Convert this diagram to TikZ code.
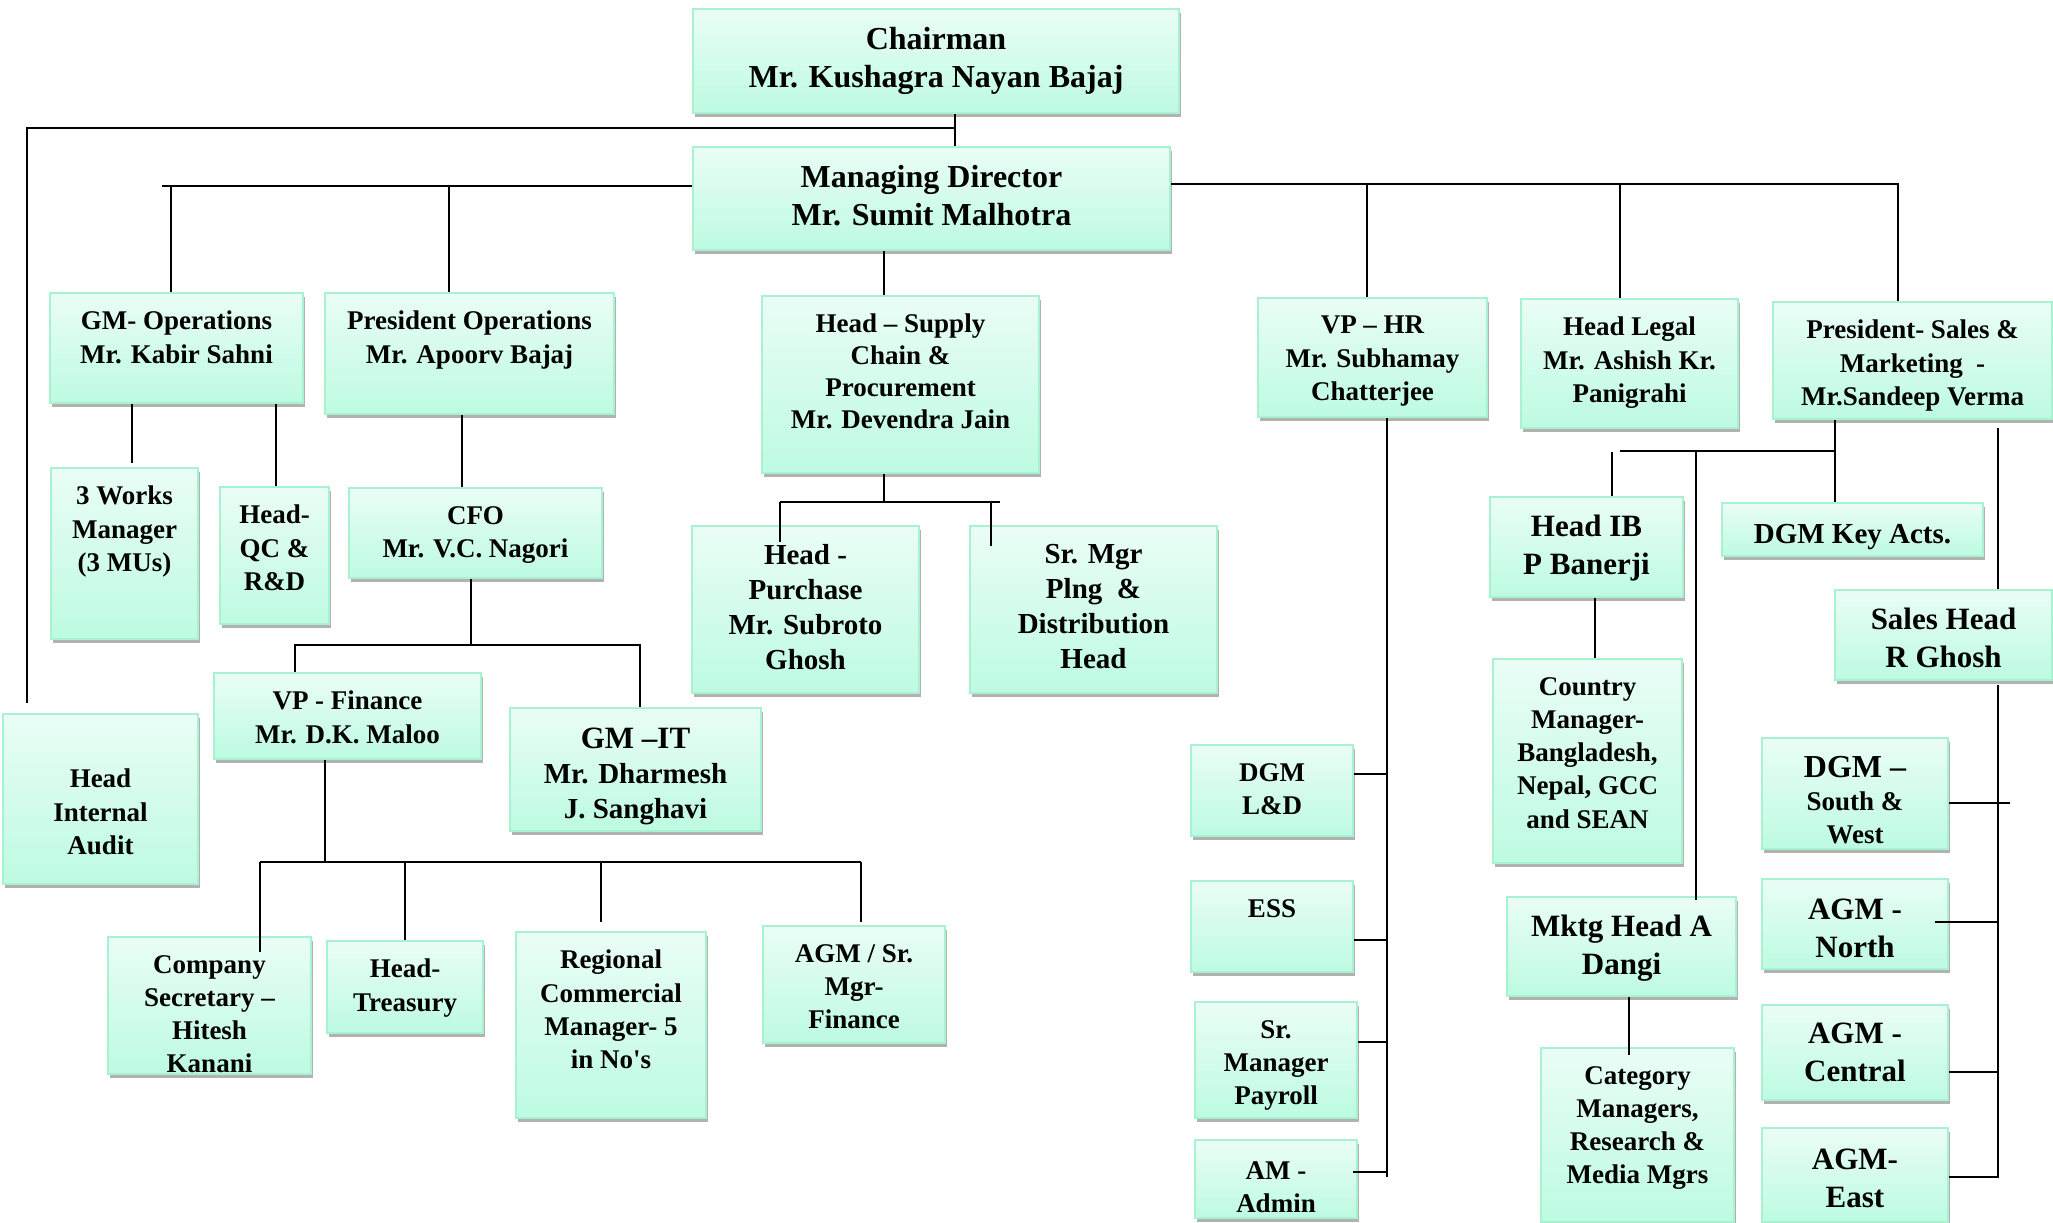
\documentclass[tikz,border=0pt]{standalone}
\usepackage{fontspec}
\setmainfont{Liberation Serif}
\usetikzlibrary{shadows}
\definecolor{boxtop}{HTML}{EAFDF6}
\definecolor{boxbot}{HTML}{BDFBE2}
\definecolor{boxline}{HTML}{A8F2D0}

\begin{document}
\begin{tikzpicture}[
  x=1pt, y=-1pt,
  post/.style={rectangle, draw=boxline, line width=2pt, top color=boxtop, bottom color=boxbot, inner sep=0pt,
    drop shadow={shadow xshift=2pt, shadow yshift=-4pt, fill=black, opacity=0.3}},
  txt/.style={anchor=north, yshift=-19pt, align=center, inner sep=0pt, font=\fontsize{27}{33.3}\selectfont\bfseries},
  txtm/.style={txt, font=\fontsize{29}{35}\selectfont\bfseries},
  txtl/.style={txt, font=\fontsize{31}{38}\selectfont\bfseries},
  txtxl/.style={txt, font=\fontsize{32}{38}\selectfont\bfseries},
  link/.style={draw, line width=2.3pt}
]
\fill[white] (0,0) rectangle (2053,1223);
\useasboundingbox (0,0) rectangle (2053,1223);

% top management
\node[post, minimum width=486, minimum height=104, label={[txtxl]north:Chairman\\Mr. Kushagra Nayan Bajaj}] (chair) at (936,61) {};
\node[post, minimum width=477, minimum height=103, label={[txtxl]north:Managing Director\\Mr. Sumit Malhotra}] (md) at (931.5,198.5) {};

% operations and finance
\node[post, minimum width=253, minimum height=110, label={[txt]north:GM- Operations\\Mr. Kabir Sahni}] (gmops) at (176.5,348) {};
\node[post, minimum width=289, minimum height=121, label={[txt]north:President Operations\\Mr. Apoorv Bajaj}] (presops) at (469.5,353.5) {};
\node[post, minimum width=147, minimum height=171, label={[txt]north:3 Works\\Manager\\(3 MUs)}] (works) at (124.5,553.5) {};
\node[post, minimum width=109, minimum height=137, label={[txt]north:Head-\\QC \&\\R\&D}] (qc) at (274.5,555.5) {};
\node[post, minimum width=253, minimum height=90, label={[txt]north:CFO\\Mr. V.C. Nagori}] (cfo) at (475.5,533) {};
\node[post, minimum width=195, minimum height=170, label={[txt, yshift=-37pt]north:Head\\Internal\\Audit}] (audit) at (100.5,799) {};
\node[post, minimum width=267, minimum height=86, label={[txt]north:VP - Finance\\Mr. D.K. Maloo}] (vpfin) at (347.5,716) {};
\node[post, minimum width=251, minimum height=123, label={[txtm, yshift=-2pt]north:{\fontsize{31}{38}\selectfont GM --IT}\\Mr. Dharmesh\\J. Sanghavi}] (gmit) at (635.5,769.5) {};
\node[post, minimum width=203, minimum height=137, label={[txt]north:Company\\Secretary --\\Hitesh\\Kanani}] (cosec) at (209.5,1005.5) {};
\node[post, minimum width=156, minimum height=92, label={[txt]north:Head-\\Treasury}] (treas) at (405,987) {};
\node[post, minimum width=190, minimum height=186, label={[txt]north:Regional\\Commercial\\Manager- 5\\in No\textquotesingle s}] (regional) at (611,1025) {};
\node[post, minimum width=182, minimum height=117, label={[txt]north:AGM / Sr.\\Mgr-\\Finance}] (agmfin) at (854,984.5) {};

% supply chain
\node[post, minimum width=277, minimum height=177, label={[txt, font=\fontsize{27}{32}\selectfont\bfseries]north:Head -- Supply\\Chain \&\\Procurement\\Mr. Devendra Jain}] (supply) at (900.5,384.5) {};
\node[post, minimum width=227, minimum height=167, label={[txtm]north:Head -\\Purchase\\Mr. Subroto\\Ghosh}] (purchase) at (805.5,609.5) {};
\node[post, minimum width=247, minimum height=167, label={[txtm]north:Sr. Mgr\\Plng~\ \&\\Distribution\\Head}] (plng) at (1093.5,609.5) {};

% HR and legal
\node[post, minimum width=229, minimum height=119, label={[txt]north:VP -- HR\\Mr. Subhamay\\Chatterjee}] (vphr) at (1372.5,357.5) {};
\node[post, minimum width=217, minimum height=129, label={[txt]north:Head Legal\\Mr. Ashish Kr.\\Panigrahi}] (legal) at (1629.5,363.5) {};
\node[post, minimum width=162, minimum height=91, label={[txt]north:DGM\\L\&D}] (dgmld) at (1272,790.5) {};
\node[post, minimum width=162, minimum height=91, label={[txt]north:ESS}] (ess) at (1272,926.5) {};
\node[post, minimum width=162, minimum height=116, label={[txt]north:Sr.\\Manager\\Payroll}] (payroll) at (1276,1060) {};
\node[post, minimum width=162, minimum height=78, label={[txt, yshift=-3pt]north:AM -\\Admin}] (admin) at (1276,1179) {};

% sales and marketing
\node[post, minimum width=279, minimum height=117, label={[txt]north:President- Sales \&\\Marketing~\ -\\Mr.Sandeep Verma}] (pressales) at (1912.5,360.5) {};
\node[post, minimum width=193, minimum height=100, label={[txtl]north:Head IB\\P Banerji}] (headib) at (1586.5,547) {};
\node[post, minimum width=261, minimum height=53, label={[txtm, yshift=-3pt]north:DGM Key Acts.}] (keyacts) at (1852.5,529.5) {};
\node[post, minimum width=217, minimum height=90, label={[txtl]north:Sales Head\\R Ghosh}] (saleshead) at (1943.5,635) {};
\node[post, minimum width=189, minimum height=204, label={[txt]north:Country\\Manager-\\Bangladesh,\\Nepal, GCC\\and SEAN}] (country) at (1587.5,761) {};
\node[post, minimum width=229, minimum height=99, label={[txtl]north:Mktg Head A\\Dangi}] (mktg) at (1621.5,946.5) {};
\node[post, minimum width=193, minimum height=174, label={[txt]north:Category\\Managers,\\Research \&\\Media Mgrs}] (category) at (1637.5,1135) {};
\node[post, minimum width=186, minimum height=111, label={[txt]north:{\fontsize{32}{38}\selectfont DGM --}\\South \&\\West}] (dgmsw) at (1855,793.5) {};
\node[post, minimum width=186, minimum height=90, label={[txtl, yshift=-2pt]north:AGM -\\North}] (agmn) at (1855,924) {};
\node[post, minimum width=186, minimum height=95, label={[txtl]north:AGM -\\Central}] (agmc) at (1855,1052.5) {};
\node[post, minimum width=186, minimum height=94, label={[txtl, yshift=-3pt]north:AGM-\\East}] (agme) at (1855,1175) {};

% chairman and MD links
\coordinate (chj) at (955,128);
\coordinate (auditj) at (27,703);
\draw[link] (chair.south -| chj) -- (md.north -| chj);
\draw[link] (chj) -| (auditj);

\coordinate (mdl) at (162,186);
\coordinate (gmj) at (171,186);
\coordinate (poj) at (449,186);
\draw[link] (md.west |- mdl) -- (mdl);
\draw[link] (gmj) -- (gmops.north -| gmj);
\draw[link] (poj) -- (presops.north -| poj);

\coordinate (mdr) at (1898,184);
\coordinate (hrj) at (1367,184);
\coordinate (lgj) at (1620,184);
\draw[link] (md.east |- mdr) -- (mdr) -- (pressales.north -| mdr);
\draw[link] (hrj) -- (vphr.north -| hrj);
\draw[link] (lgj) -- (legal.north -| lgj);

% operations
\coordinate (wj) at (132,463);
\coordinate (qcj) at (276,487);
\coordinate (cfoj) at (462,488);
\draw[link] (gmops.south -| wj) -- (wj);
\draw[link] (gmops.south -| qcj) -- (qc.north -| qcj);
\draw[link] (presops.south -| cfoj) -- (cfo.north -| cfoj);

% finance
\coordinate (fj) at (471,645);
\coordinate (fl) at (295,645);
\coordinate (fr) at (640,645);
\draw[link] (cfo.south -| fj) -- (fj);
\draw[link] (vpfin.north -| fl) -- (fl) -- (fr) -- (gmit.north -| fr);
\coordinate (vj) at (325,862);
\coordinate (vl) at (260,862);
\coordinate (vr) at (861,862);
\coordinate (tj) at (405,862);
\coordinate (rj) at (601,862);
\draw[link] (vpfin.south -| vj) -- (vj);
\draw[link] (vl) -- (vr);
\draw[link] (vl) -- ([yshift=-16pt]cosec.north -| vl);
\draw[link] (tj) -- (treas.north -| tj);
\draw[link] (rj) -- ([yshift=9pt]regional.north -| rj);
\draw[link] (vr) -- ([yshift=3pt]agmfin.north -| vr);

% supply chain
\coordinate (sj) at (884,502);
\coordinate (sl) at (780,502);
\coordinate (sr) at (1000,502);
\coordinate (pj) at (991,502);
\draw[link] (md.south -| sj) -- (supply.north -| sj);
\draw[link] (supply.south -| sj) -- (sj);
\draw[link] (sl) -- (sr);
\draw[link] (sl) -- ([yshift=-17pt]purchase.north -| sl);
\draw[link] (pj) -- ([yshift=-21pt]plng.north -| pj);

% HR
\coordinate (hrb) at (1387,1177);
\coordinate (hr1) at (1387,774);
\coordinate (hr2) at (1387,940);
\coordinate (hr3) at (1387,1042);
\coordinate (hr4) at (1387,1172);
\draw[link] (vphr.south -| hrb) -- (hrb);
\draw[link] (dgmld.east |- hr1) -- (hr1);
\draw[link] (ess.east |- hr2) -- (hr2);
\draw[link] (payroll.east |- hr3) -- (hr3);
\draw[link] ([xshift=-5pt]admin.east |- hr4) -- (hr4);

% sales and marketing
\coordinate (psj) at (1835,451);
\coordinate (psl) at (1620,451);
\coordinate (ibj) at (1612,452);
\coordinate (mkj) at (1696,451);
\draw[link] (pressales.south -| psj) -- (keyacts.north -| psj);
\draw[link] (psl) -- (psj);
\draw[link] (ibj) -- (headib.north -| ibj);
\draw[link] (mkj) -- ([yshift=-4pt]mktg.north -| mkj);
\coordinate (cmj) at (1595,600);
\coordinate (ctj) at (1629,1000);
\draw[link] (headib.south -| cmj) -- (country.north -| cmj);
\draw[link] (mktg.south -| ctj) -- ([yshift=-8pt]category.north -| ctj);

\coordinate (shj) at (1998,428);
\coordinate (sab) at (1998,1178);
\coordinate (sa1) at (2010,803);
\coordinate (sa2) at (1998,922);
\coordinate (sa3) at (1998,1072);
\coordinate (sa4) at (1998,1177);
\draw[link] (shj) -- (saleshead.north -| shj);
\draw[link] ([yshift=-4pt]saleshead.south -| sab) -- (sab);
\draw[link] (dgmsw.east |- sa1) -- (sa1);
\draw[link] ([xshift=-14pt]agmn.east |- sa2) -- (sa2);
\draw[link] (agmc.east |- sa3) -- (sa3);
\draw[link] (agme.east |- sa4) -- (sa4);
\end{tikzpicture}
\end{document}
